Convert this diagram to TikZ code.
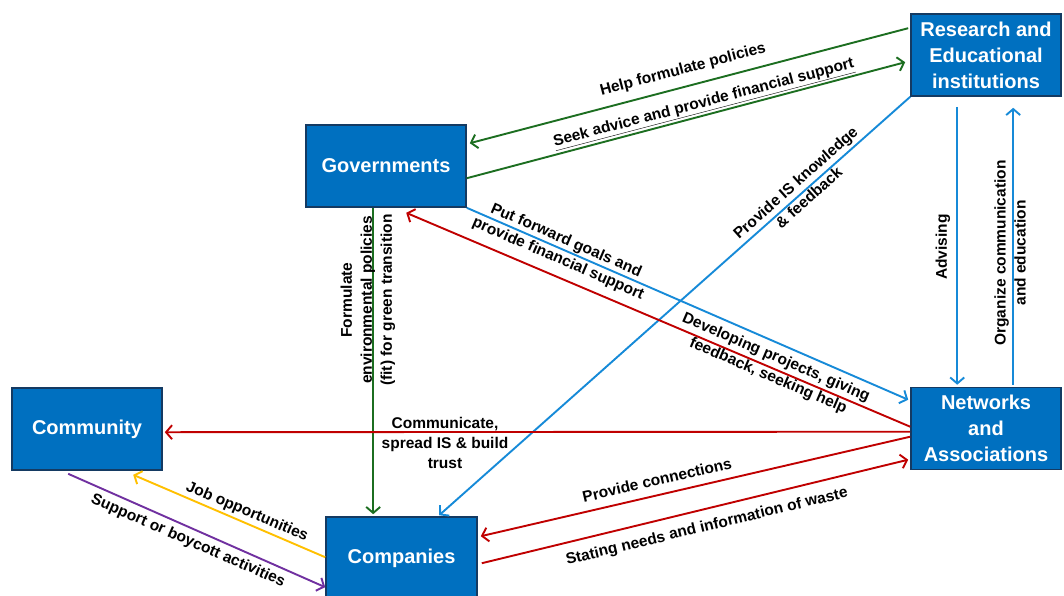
\documentclass[tikz,border=0pt]{standalone}
\usepackage{fontspec}
\setmainfont{Liberation Sans}
\usetikzlibrary{arrows.meta,calc}
\definecolor{boxfill}{RGB}{0,112,192}
\definecolor{boxline}{RGB}{20,58,98}
\definecolor{lgreen}{RGB}{28,110,32}
\definecolor{lblue}{RGB}{22,138,216}
\definecolor{lred}{RGB}{192,0,0}
\definecolor{lyellow}{RGB}{255,192,0}
\definecolor{lpurple}{RGB}{112,48,160}
\begin{document}
\begin{tikzpicture}[x=1pt,y=-1pt,
  actor/.style={draw=boxline, line width=1.6pt, fill=boxfill, text=white,
    font=\fontsize{20}{26}\selectfont\bfseries, align=center, inner sep=0pt,
    minimum width=150pt, minimum height=82pt},
  conn/.style={line width=1.9pt, -{Straight Barb[length=6pt,width=14pt]}},
  lbl/.style={font=\fontsize{15.5}{20}\selectfont\bfseries, align=center,
    inner sep=0pt, text=black}
]
\path[use as bounding box, fill=white] (0,0) rectangle (1064,595);

% actors
\node[actor] (res)  at (986,55)    {Research and\\Educational\\institutions};
\node[actor, minimum width=160pt] (gov) at (386,166) {Governments};
\node[actor] (net)  at (986,428.5) {Networks\\and\\Associations};
\node[actor] (com)  at (87,429)    {Community};
\node[actor, minimum width=151pt] (cmp) at (401.5,558) {Companies};

% green
\draw[conn, draw=lgreen] ($(res.north west)+(-2,15)$) -- ($(gov.north east)+(3,19)$);
\draw[conn, draw=lgreen] ($(gov.north east)+(0,54)$) -- ($(res.north west)+(-5,49)$);
\draw[conn, draw=lgreen] ($(gov.south west)+(68,0)$) -- ($(cmp.north west)+(48,-2)$);

% blue
\draw[conn, draw=lblue] (gov.south east) -- ($(net.north west)+(-2,13)$);
\draw[conn, draw=lblue] (res.south west) -- ($(cmp.north west)+(114,-1)$);
\draw[conn, draw=lblue] ($(res.south west)+(47,10)$) -- ($(net.north west)+(47,-2)$);
\draw[conn, draw=lblue] ($(net.north west)+(103,-2)$) -- ($(res.south west)+(103,11)$);

% red
\draw[conn, draw=lred] ($(net.north west)+(0,40)$) -- ($(gov.south west)+(101,5)$);
\draw[conn, draw=lred] ($(net.north west)+(0,45)$) -- ($(com.north east)+(2,45)$);
\draw[conn, draw=lred] ($(net.north west)+(0,50)$) -- ($(cmp.north east)+(3,20)$);
\draw[conn, draw=lred] ($(cmp.north east)+(4,47)$) -- ($(net.north west)+(-2,73)$);

% yellow / purple
\draw[conn, draw=lyellow] ($(cmp.north west)+(0,41)$) -- ($(com.south west)+(122,4)$);
\draw[conn, draw=lpurple] ($(com.south west)+(57,3)$) -- ($(cmp.north west)+(0,71)$);

% labels
\node[lbl, rotate=14.7] (l1) at (683,70) {Help formulate policies};
\node[lbl, rotate=14.7] (l2) at (704,104) {\underline{Seek advice and provide financial support}};
\node[lbl, rotate=90] (l3) at (368,300) {Formulate\\environmental policies\\(fit) for green transition};
\node[lbl, rotate=-23.5] (l4) at (562,250) {Put forward goals and\\provide financial support};
\node[lbl, rotate=41.7] (l5) at (802,190) {Provide IS knowledge\\\& feedback};
\node[lbl, rotate=-23.3] (l6) at (772,367) {Developing projects, giving\\feedback, seeking help};
\node[lbl] (l7) at (445,443) {Communicate,\\spread IS \& build\\trust};
\node[lbl, rotate=90] (l8) at (943,247) {Advising};
\node[lbl, rotate=90] (l9) at (1010,253) {Organize communication\\and education};
\node[lbl, rotate=13.0] (l10) at (657,480) {Provide connections};
\node[lbl, rotate=13.6] (l11) at (707,527) {Stating needs and information of waste};
\node[lbl, rotate=-23.1] (l12) at (247,512) {Job opportunities};
\node[lbl, rotate=-23.7] (l13) at (188,541) {Support or boycott activities};
\end{tikzpicture}
\end{document}
